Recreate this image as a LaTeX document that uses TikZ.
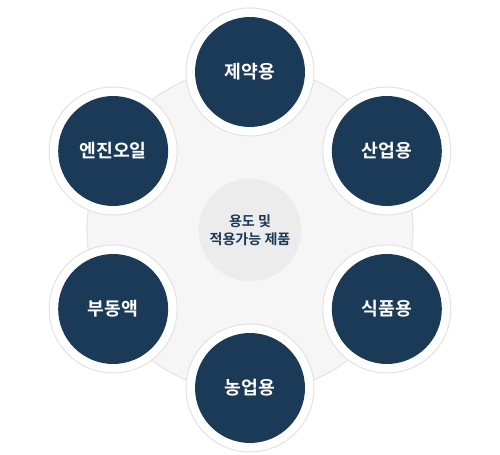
\documentclass[tikz,border=0pt]{standalone}
\usepackage{fontspec}
\setmainfont{Noto Sans CJK KR}
\newfontfamily\kobold{Noto Sans CJK KR Bold}
\usetikzlibrary{positioning,calc}
\definecolor{navy}{HTML}{1B3A57}
\definecolor{ringline}{HTML}{E4E4E4}
\definecolor{bgfill}{HTML}{F6F6F6}
\definecolor{midfill}{HTML}{ECECEC}
\tikzset{
  bigbg/.style={draw=ringline, line width=0.6pt, fill=bgfill},
  midc/.style={circle, fill=midfill, minimum size=2.05cm, inner sep=0pt,
    align=center, text=navy, font=\kobold\fontsize{8}{10.5}\selectfont},
  ring/.style={circle, fill=white, draw=black!11, line width=0.6pt,
    minimum size=2.56cm, inner sep=0pt},
  usec/.style={circle, fill=navy, minimum size=2.2cm, inner sep=0pt,
    text=white, font=\kobold\fontsize{10.4}{12}\selectfont},
}

\begin{document}
\begin{tikzpicture}[x=0.02cm,y=-0.02cm]
\useasboundingbox (0,0) rectangle (500,455);
\draw[bigbg] (250,230) circle (163);
\node[midc] (mid) at (250,230) {용도 및\\적용가능 제품};
% six uses around the center (y points down)
\foreach \ang/\name/\txt in {-90/yak/제약용, -30/san/산업용, 30/sik/식품용,
  90/nong/농업용, 150/bu/부동액, 210/eng/엔진오일}{
  \node[ring] (r\name) at ($(250,230)+(\ang:158)$) {};
  \node[usec] (\name) at (r\name) {\txt};
}
\end{tikzpicture}
\end{document}
